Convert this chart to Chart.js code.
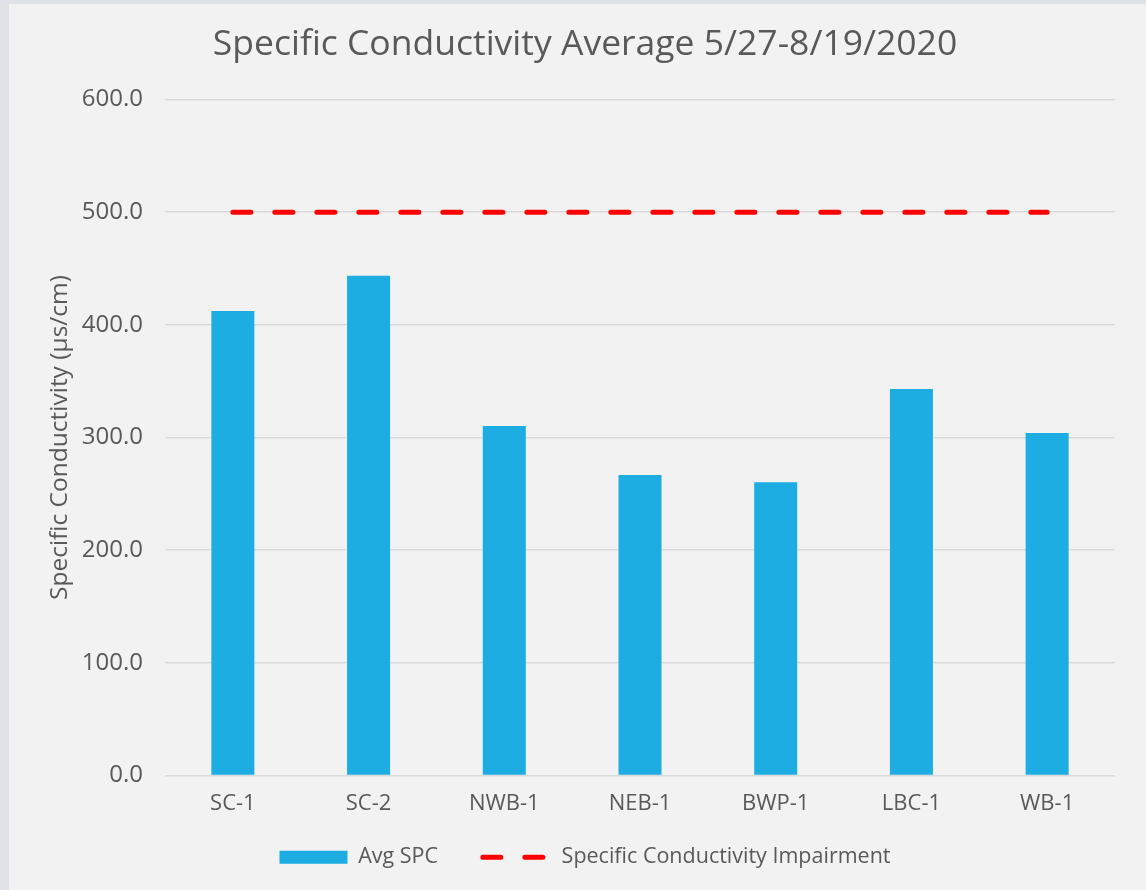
<!DOCTYPE html>
<html>
<head>
<meta charset="utf-8">
<script src="https://cdn.jsdelivr.net/npm/chart.js@4/dist/chart.umd.min.js"></script>
<style>
  html, body { margin: 0; padding: 0; overflow: hidden; background: #dfe3e7; }
  #frame { position: absolute; left: 9px; top: 4px; width: 1137px; height: 886px; background: #f2f2f2; overflow: hidden; }
  #chart { display: block; }
</style>
</head>
<body>
<div id="frame">
  <canvas id="chart" width="1152" height="886"></canvas>
</div>
<script>
const categories = ["SC-1", "SC-2", "NWB-1", "NEB-1", "BWP-1", "LBC-1", "WB-1"];
const avgSpc = [412.4, 443.6, 310.2, 266.7, 260.4, 343.1, 304.0];
const impairment = [500, 500, 500, 500, 500, 500, 500];

const textColor = "#595959";
const fontFamily = "'Open Sans', 'Liberation Sans', sans-serif";
const barColor = "#1dade2";
const lineColor = "#ff0000";

new Chart(document.querySelector("#chart"), {
  type: "bar",
  data: {
    labels: categories,
    datasets: [
      {
        type: "line",
        label: "Specific Conductivity Impairment",
        data: impairment,
        borderColor: lineColor,
        borderWidth: 5,
        borderDash: [18, 24],
        borderCapStyle: "round",
        pointRadius: 0,
        fill: false,
        order: 0,
        yAxisID: "y",
      },
      {
        label: "Avg SPC",
        data: avgSpc,
        backgroundColor: barColor,
        categoryPercentage: 1,
        barPercentage: 0.317,
        order: 1,
        yAxisID: "y",
      },
    ],
  },
  options: {
    responsive: false,
    animation: false,
    layout: { padding: { left: 0, right: 0, top: 0, bottom: 12 } },
    scales: {
      x: {
        grid: { display: false, drawTicks: false },
        border: { display: false },
        ticks: { color: textColor, font: { family: fontFamily, size: 22 }, padding: 15 },
        afterFit(scale) { scale.height = 43; },
      },
      y: {
        min: 0,
        max: 600,
        ticks: {
          stepSize: 100,
          color: textColor,
          font: { family: fontFamily, size: 24 },
          padding: 22,
          callback: (value) => Number(value).toFixed(1),
        },
        grid: { color: "#d9d9d9", lineWidth: 1.5, drawTicks: false },
        border: { display: false },
        title: {
          display: true,
          text: "Specific Conductivity (µs/cm)",
          color: textColor,
          font: { family: fontFamily, size: 24.5 },
          padding: { top: 36, bottom: 0 },
        },
        afterFit(scale) { scale.width = 156; },
      },
      y2: {
        position: "right",
        display: true,
        grid: { display: false, drawTicks: false },
        border: { display: false },
        ticks: { display: false },
        afterFit(scale) { scale.width = 46; },
      },
    },
    plugins: {
      title: {
        display: true,
        text: "Specific Conductivity Average 5/27-8/19/2020",
        color: textColor,
        font: { family: fontFamily, size: 35.5, weight: "normal" },
        padding: { top: 20, bottom: 33 },
      },
      tooltip: { enabled: false },
      legend: {
        position: "bottom",
        labels: {
          usePointStyle: true,
          pointStyleWidth: 68,
          padding: 28,
          color: textColor,
          font: { family: fontFamily, size: 21.5 },
          generateLabels: () => [
            {
              text: "Avg SPC   ",
              pointStyle: "line",
              strokeStyle: barColor,
              fillStyle: barColor,
              lineWidth: 13,
              lineCap: "butt",
              lineDash: [],
              fontColor: textColor,
              datasetIndex: 1,
            },
            {
              text: "Specific Conductivity Impairment",
              pointStyle: "line",
              strokeStyle: lineColor,
              fillStyle: lineColor,
              lineWidth: 5,
              lineCap: "round",
              lineDash: [18, 24],
              fontColor: textColor,
              datasetIndex: 0,
            },
          ],
        },
      },
    },
  },
});
</script>
</body>
</html>
